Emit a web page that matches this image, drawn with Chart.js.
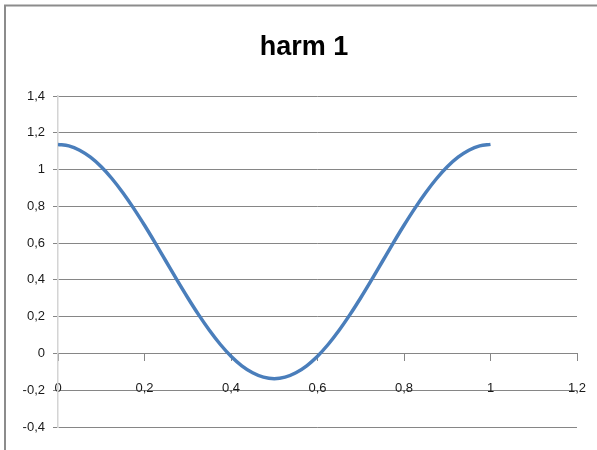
<!DOCTYPE html>
<html>
<head>
<meta charset="utf-8">
<script src="https://cdn.jsdelivr.net/npm/chart.js@4"></script>
<style>
  html, body { margin: 0; padding: 0; background: #fff; }
  #wrap { width: 597px; height: 450px; }
</style>
</head>
<body>
<div id="wrap"><canvas id="myChart" width="597" height="450"></canvas></div>
<script>
const ctx = document.getElementById("myChart").getContext('2d');

// valores
const xValues = [0, 0.025, 0.05, 0.075, 0.1, 0.125, 0.15, 0.175, 0.2, 0.225, 0.25,
                 0.275, 0.3, 0.325, 0.35, 0.375, 0.4, 0.425, 0.45, 0.475, 0.5,
                 0.525, 0.55, 0.575, 0.6, 0.625, 0.65, 0.675, 0.7, 0.725, 0.75,
                 0.775, 0.8, 0.825, 0.85, 0.875, 0.9, 0.925, 0.95, 0.975, 1];
const yValues = [1.137, 1.129, 1.105, 1.067, 1.015, 0.950, 0.874, 0.789, 0.697, 0.600, 0.5,
                 0.400, 0.303, 0.211, 0.126, 0.050, -0.015, -0.067, -0.105, -0.129, -0.137,
                 -0.129, -0.105, -0.067, -0.015, 0.050, 0.126, 0.211, 0.303, 0.400, 0.5,
                 0.600, 0.697, 0.789, 0.874, 0.950, 1.015, 1.067, 1.105, 1.129, 1.137];
const xTicks = [0, 0.2, 0.4, 0.6, 0.8, 1, 1.2];
const yTicks = [-0.4, -0.2, 0, 0.2, 0.4, 0.6, 0.8, 1, 1.2, 1.4];

const fontFamily = '"Liberation Sans", Arial, sans-serif';
const fmt = (v) => String(Math.round(v * 10) / 10).replace('.', ',');

const points = xValues.map((x, i) => ({ x: x, y: yValues[i] }));

// fundo branco e borda cinza (como no Excel)
const frame = {
    id: 'frame',
    beforeDraw(chart) {
        const c = chart.ctx;
        c.save();
        c.fillStyle = '#fff';
        c.fillRect(0, 0, chart.width, chart.height);
        c.strokeStyle = '#8c8c8c';
        c.lineWidth = 2;
        c.beginPath();
        c.moveTo(5, chart.height);
        c.lineTo(5, 5.5);
        c.lineTo(chart.width, 5.5);
        c.stroke();
        c.restore();
    }
};

new Chart(ctx, {
    type: "scatter",
    data: {
        datasets: [{
            label: "harm 1",
            data: points,
            showLine: true,
            borderColor: "#4a7ebb",
            borderWidth: 3.5,
            pointRadius: 0,
            cubicInterpolationMode: "monotone",
        }],
    },
    options: {
        responsive: false,
        animation: false,
        layout: { padding: { left: 11, right: 0, top: 0, bottom: 23 } },
        plugins: {
            legend: { display: false },
            tooltip: { enabled: false },
            title: {
                display: true,
                text: "harm 1",
                color: "#000",
                font: { family: fontFamily, size: 27, weight: "bold" },
                padding: { top: 31, bottom: 32.6 },
            },
        },
        scales: {
            x: {
                type: "linear",
                position: { y: 0 },
                min: 0,
                max: 1.2,
                afterBuildTicks: (scale) => { scale.ticks = xTicks.map(v => ({ value: v })); },
                afterFit: (scale) => { scale.paddingLeft = 0; scale.paddingRight = 20; },
                ticks: {
                    callback: fmt,
                    color: "#1a1a1a",
                    font: { family: fontFamily, size: 13 },
                    padding: 20,
                    maxRotation: 0,
                    autoSkip: false,
                },
                grid: { drawOnChartArea: false, tickLength: 7, color: "#868686" },
                border: { color: "#868686", width: 1 },
            },
            y: {
                min: -0.4,
                max: 1.4,
                afterBuildTicks: (scale) => { scale.ticks = yTicks.map(v => ({ value: v })); },
                afterFit: (scale) => { scale.width = 47; },
                ticks: {
                    callback: fmt,
                    color: "#1a1a1a",
                    font: { family: fontFamily, size: 13 },
                    padding: 8,
                    autoSkip: false,
                },
                grid: { tickLength: 5, color: "#868686" },
                border: { color: "#d4d4d4", width: 1.5 },
            },
        },
    },
    plugins: [frame],
});
</script>
</body>
</html>
